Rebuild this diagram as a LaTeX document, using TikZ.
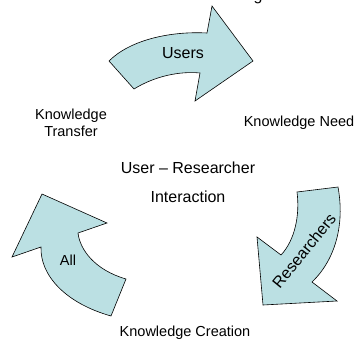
\documentclass[tikz,border=0pt]{standalone}
\usepackage{fontspec}
\setmainfont{Liberation Sans}
\definecolor{arrowfill}{RGB}{187,224,227}
\begin{document}
\begin{tikzpicture}[x=1pt,y=-1pt,
  arrowshape/.style={fill=arrowfill,draw=black,line width=0.6pt,line join=miter},
  lbl/.style={font=\fontsize{14.5}{17.5}\selectfont,align=center,inner sep=0pt},
  biglbl/.style={font=\fontsize{16}{19}\selectfont,align=center,inner sep=0pt}]
\useasboundingbox (0,0) rectangle (358,345);
\clip (0,0) rectangle (358,345);
% Users arrow
\draw[arrowshape] (109,61) -- (134,89) .. controls (155,76) and (180,71) .. (200,73)
  -- (195,101) -- (253,61) -- (212,6) -- (207,33)
  .. controls (170,31) and (130,40) .. (109,61) -- cycle;
% Researchers arrow
\draw[arrowshape] (297,192) -- (338,187) .. controls (345,225) and (335,260) .. (312,282)
  -- (337,301) -- (263,305) -- (257,237) -- (281,255)
  .. controls (295,240) and (300,215) .. (297,192) -- cycle;
% All arrow
\draw[arrowshape] (42,194) -- (107,223) -- (78,233) .. controls (80,250) and (95,270) .. (126,279)
  -- (111,316) .. controls (65,303) and (40,275) .. (41,247) -- (12,257) -- cycle;
% labels
\node[biglbl] (users) at (183,53) {Users};
\node[biglbl,rotate=51] (res) at (304,251) {Researchers};
\node[lbl] (all) at (68,260) {All};
\node[lbl] (kt) at (71,123) {Knowledge\\Transfer};
\node[lbl] (kn) at (299,123) {Knowledge Need};
\node[lbl] (kc) at (185,333) {Knowledge Creation};
\node[biglbl] (ur) at (188,168) {User -- Researcher};
\node[biglbl] (int) at (188,197) {Interaction};
\node[biglbl,anchor=base] (g) at (258,0.5) {g};
\end{tikzpicture}
\end{document}
